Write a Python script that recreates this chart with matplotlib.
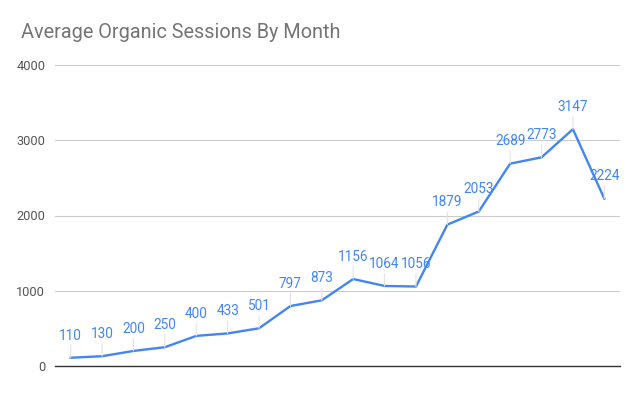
import matplotlib
matplotlib.use("Agg")
import matplotlib.pyplot as plt

plt.rcParams['font.family'] = ['Roboto', 'DejaVu Sans']

title = "Average Organic Sessions By Month"
months = list(range(18))
sessions = [110, 130, 200, 250, 400, 433, 501, 797, 873, 1156, 1064, 1056,
            1879, 2053, 2689, 2773, 3147, 2224]
yticks = [0, 1000, 2000, 3000, 4000]

W, H = 638, 394
fig = plt.figure(figsize=(W / 100, H / 100), dpi=100)
ax = fig.add_axes([55 / W, 28 / H, 565 / W, 301 / H])

ax.plot(months, sessions, color='#4285F4', lw=1.7, solid_joinstyle='round', zorder=3)
for x, y in zip(months, sessions):
    ax.annotate(str(y), xy=(x, y), xytext=(0, 16), textcoords='offset points',
                ha='center', va='center', color='#4285F4', fontsize=9.8,
                arrowprops=dict(arrowstyle='-', color='#e3e3e3', lw=0.8,
                                shrinkA=0, shrinkB=0), zorder=4)

ax.set_xlim(-0.5, len(months) - 0.5)
ax.set_ylim(0, 4000)
ax.set_yticks(yticks)
ax.set_yticklabels([str(t) for t in yticks])
ax.set_xticks([])
ax.tick_params(axis='y', length=0, pad=7, labelsize=9.2, labelcolor='#555555')
ax.grid(axis='y', color='#cccccc', lw=0.8)
ax.set_axisbelow(True)
for s in ['top', 'right', 'left']:
    ax.spines[s].set_visible(False)
ax.spines['bottom'].set_color('#333333')
ax.spines['bottom'].set_linewidth(1.0)
ax.spines['bottom'].set_zorder(5)

fig.text(21 / W, 1 - 32 / H, title, ha='left', va='center', fontsize=14.3,
         color='#757575')

fig.savefig('out.png', dpi=100)
